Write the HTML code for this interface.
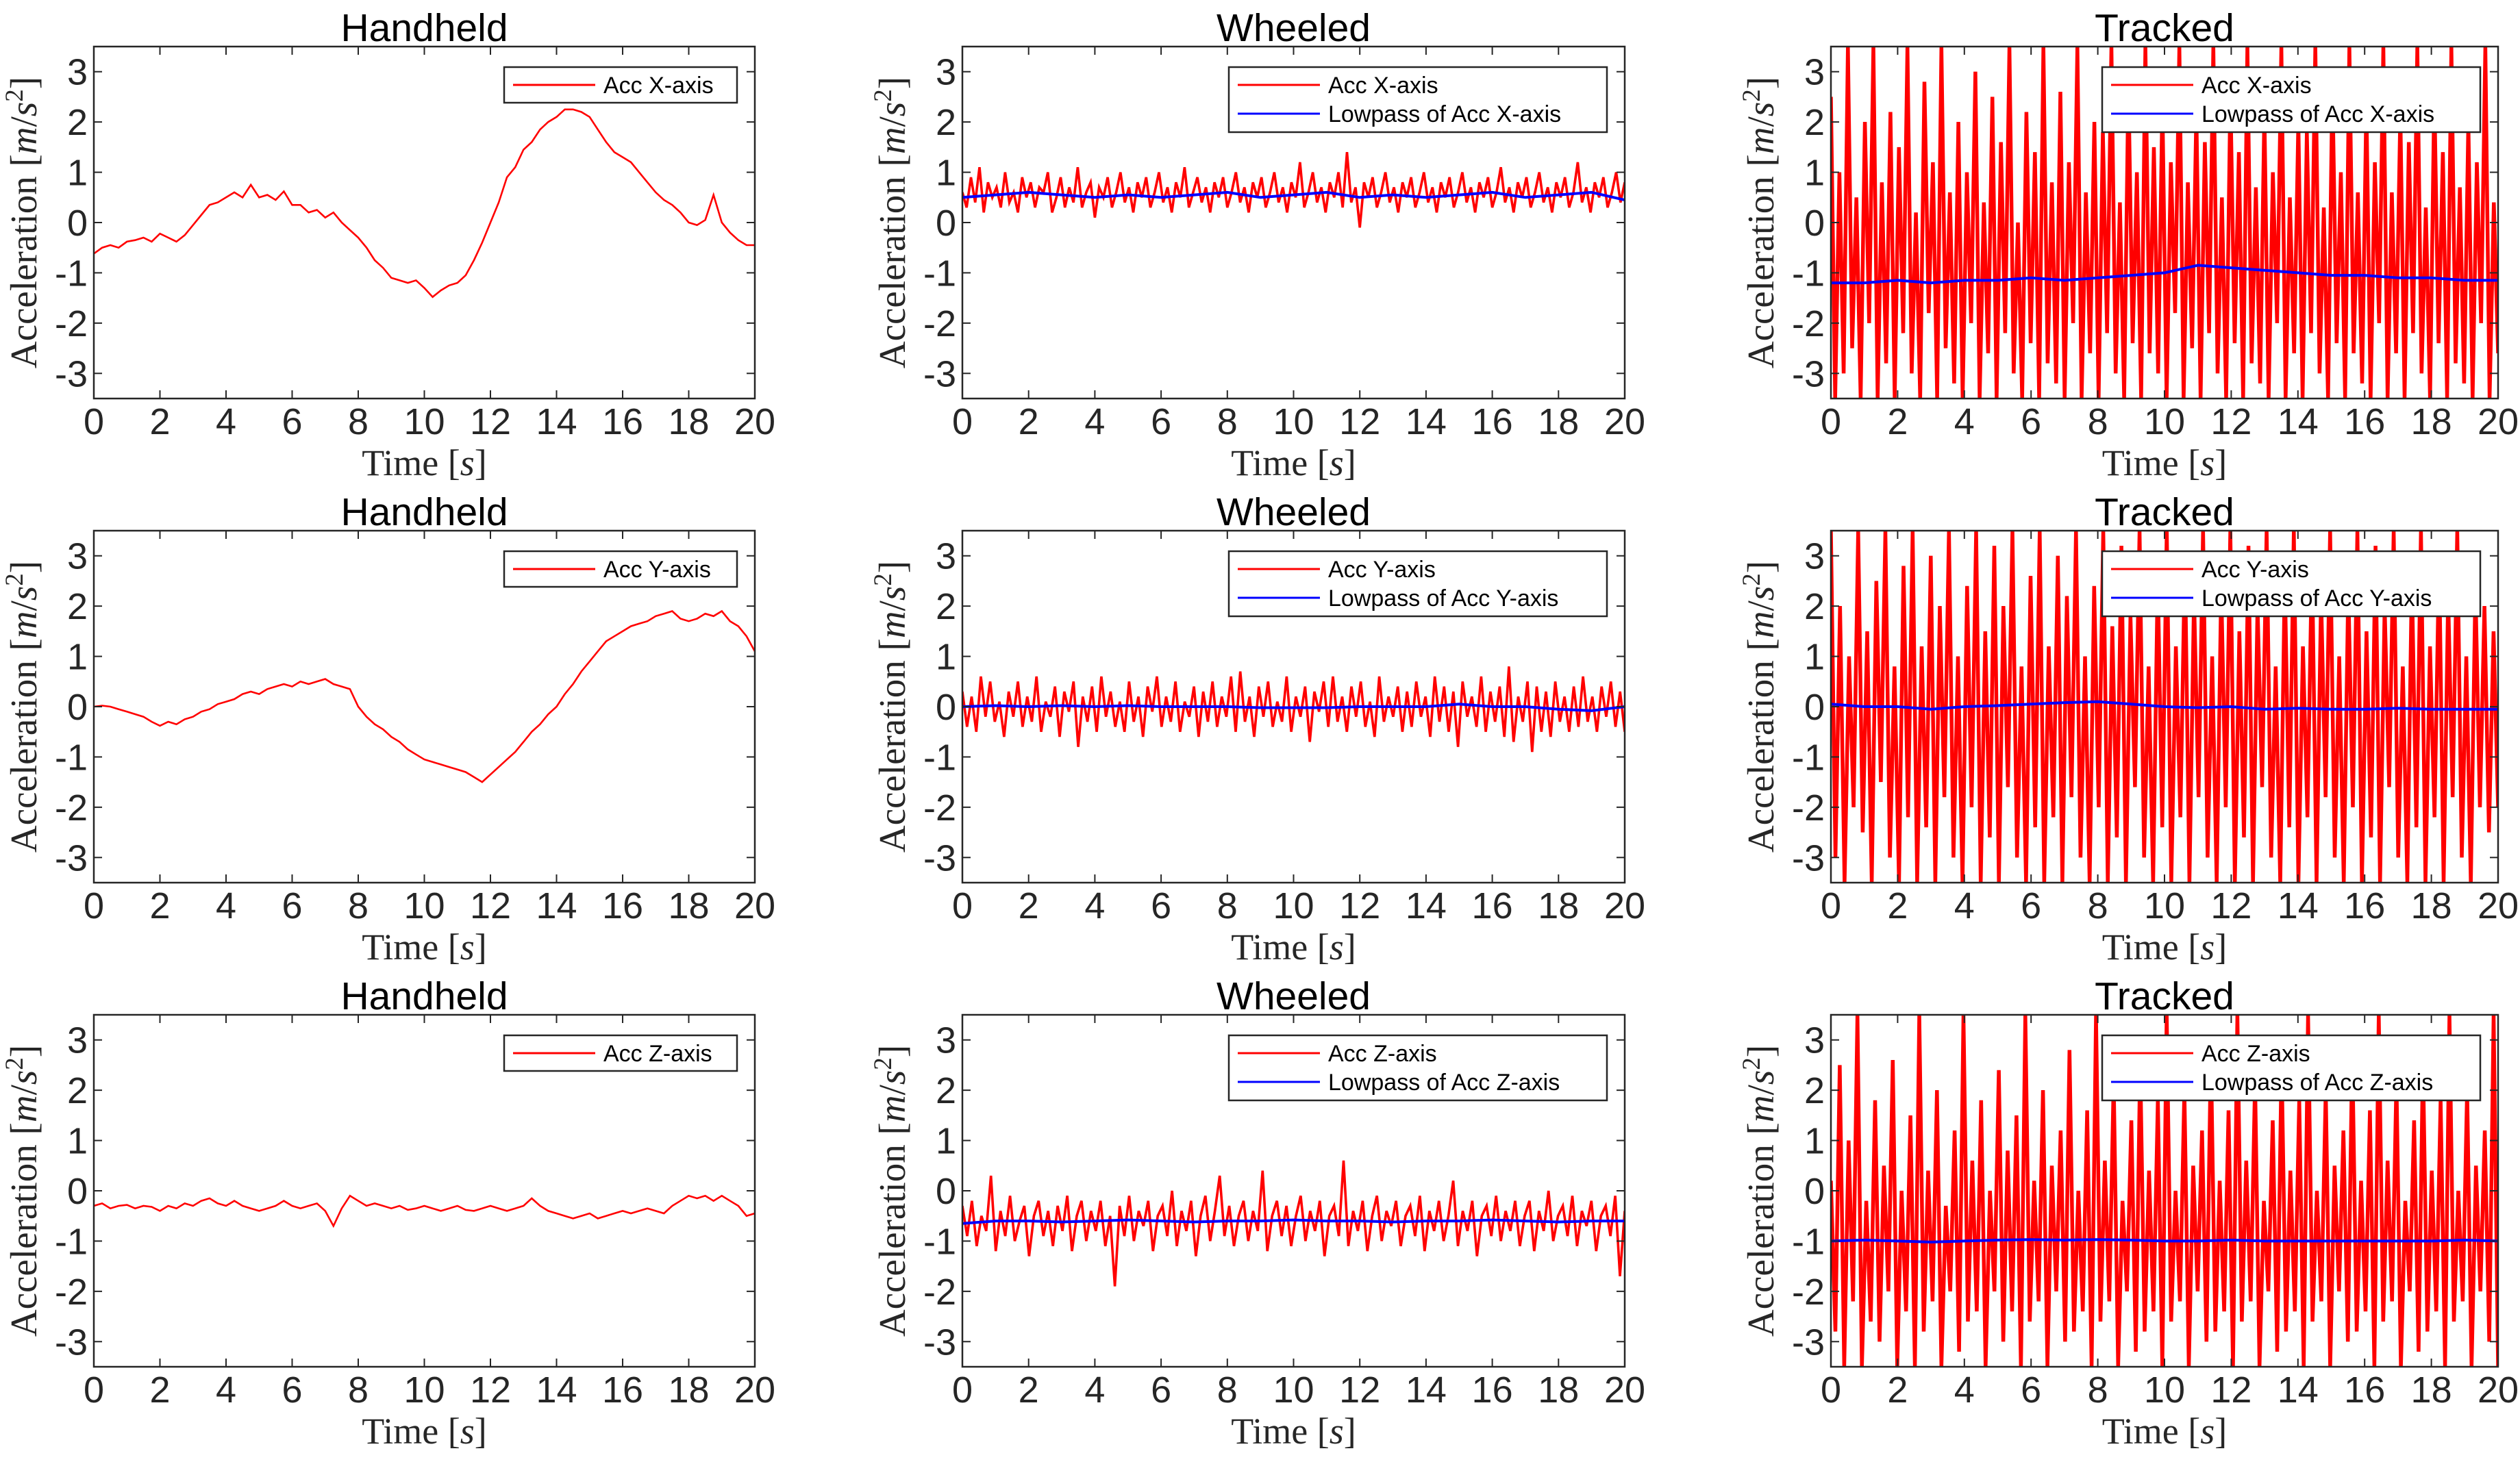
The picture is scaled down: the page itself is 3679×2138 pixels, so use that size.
<!DOCTYPE html>
<html><head><meta charset="utf-8"><style>
html,body{margin:0;padding:0;background:#fff;}
svg{display:block;}
</style></head><body>
<svg id="fig" width="3679" height="2138" viewBox="0 0 3679 2138" xmlns="http://www.w3.org/2000/svg"></svg>
<script>
const xTicks = [0,2,4,6,8,10,12,14,16,18,20];
const yTicks = [-3,-2,-1,0,1,2,3];
const yTickLabels = ["-3","-2","-1","0","1","2","3"];
const colTitles = ["Handheld","Wheeled","Tracked"];
const axisNames = ["X","Y","Z"];

const handheldX = [-0.62,-0.5,-0.45,-0.5,-0.38,-0.35,-0.3,-0.38,-0.22,-0.3,-0.38,-0.25,-0.05,0.15,0.35,0.4,0.5,0.6,0.5,0.75,0.5,0.55,0.45,0.62,0.35,0.35,0.2,0.25,0.1,0.2,0.0,-0.15,-0.3,-0.5,-0.75,-0.9,-1.1,-1.15,-1.2,-1.15,-1.3,-1.48,-1.35,-1.25,-1.2,-1.05,-0.75,-0.4,0.0,0.4,0.9,1.1,1.45,1.6,1.85,2.0,2.1,2.25,2.25,2.2,2.1,1.85,1.6,1.4,1.3,1.2,1.0,0.8,0.6,0.45,0.35,0.2,0.0,-0.05,0.05,0.55,0.0,-0.2,-0.35,-0.45,-0.45];
const handheldY = [0.0,0.02,0.0,-0.05,-0.1,-0.15,-0.2,-0.3,-0.38,-0.3,-0.35,-0.25,-0.2,-0.1,-0.05,0.05,0.1,0.15,0.25,0.3,0.25,0.35,0.4,0.45,0.4,0.5,0.45,0.5,0.55,0.45,0.4,0.35,0.0,-0.2,-0.35,-0.45,-0.6,-0.7,-0.85,-0.95,-1.05,-1.1,-1.15,-1.2,-1.25,-1.3,-1.4,-1.5,-1.35,-1.2,-1.05,-0.9,-0.7,-0.5,-0.35,-0.15,0.0,0.25,0.45,0.7,0.9,1.1,1.3,1.4,1.5,1.6,1.65,1.7,1.8,1.85,1.9,1.75,1.7,1.75,1.85,1.8,1.9,1.7,1.6,1.4,1.1];
const handheldZ = [-0.3,-0.25,-0.35,-0.3,-0.28,-0.35,-0.3,-0.32,-0.4,-0.3,-0.35,-0.25,-0.3,-0.2,-0.15,-0.25,-0.3,-0.2,-0.3,-0.35,-0.4,-0.35,-0.3,-0.2,-0.3,-0.35,-0.3,-0.25,-0.4,-0.7,-0.35,-0.1,-0.2,-0.3,-0.25,-0.3,-0.35,-0.3,-0.38,-0.35,-0.3,-0.35,-0.4,-0.35,-0.3,-0.38,-0.4,-0.35,-0.3,-0.35,-0.4,-0.35,-0.3,-0.15,-0.3,-0.4,-0.45,-0.5,-0.55,-0.5,-0.45,-0.55,-0.5,-0.45,-0.4,-0.45,-0.4,-0.35,-0.4,-0.45,-0.3,-0.2,-0.1,-0.15,-0.1,-0.2,-0.1,-0.2,-0.3,-0.5,-0.45];

const wheeledX = [0.6,0.3,0.9,0.4,1.1,0.2,0.8,0.5,0.7,0.3,1.0,0.4,0.6,0.2,0.9,0.5,0.8,0.3,0.7,0.6,1.0,0.2,0.5,0.9,0.3,0.7,0.4,1.1,0.3,0.6,0.8,0.1,0.7,0.5,0.9,0.3,0.6,1.0,0.4,0.7,0.2,0.8,0.5,0.9,0.3,0.6,1.0,0.4,0.7,0.2,0.8,0.5,1.1,0.3,0.6,0.9,0.4,0.7,0.2,0.8,0.5,0.9,0.3,0.6,1.0,0.4,0.7,0.2,0.8,0.5,0.9,0.3,0.6,1.0,0.4,0.7,0.2,0.8,0.5,1.2,0.3,0.6,1.0,0.4,0.7,0.2,0.8,0.5,1.0,0.3,1.4,0.4,0.7,-0.1,0.8,0.5,0.9,0.3,0.6,1.0,0.4,0.7,0.2,0.8,0.5,0.9,0.3,0.6,1.0,0.4,0.7,0.2,0.8,0.5,0.9,0.3,0.6,1.0,0.4,0.7,0.2,0.8,0.5,0.9,0.3,0.6,1.1,0.4,0.7,0.2,0.8,0.5,0.9,0.3,0.6,1.0,0.4,0.7,0.2,0.8,0.5,0.9,0.3,0.6,1.2,0.4,0.7,0.2,0.8,0.5,0.9,0.3,0.6,1.0,0.4,0.8];
const wheeledXLow = [0.5,0.55,0.6,0.55,0.5,0.55,0.5,0.55,0.6,0.5,0.55,0.6,0.5,0.55,0.5,0.55,0.6,0.5,0.55,0.6,0.45];
const wheeledY = [0.3,-0.4,0.2,-0.5,0.6,-0.2,0.5,-0.3,0.1,-0.6,0.3,-0.2,0.5,-0.4,0.2,-0.3,0.6,-0.5,0.1,-0.2,0.4,-0.6,0.3,-0.1,0.5,-0.8,0.2,-0.3,0.4,-0.5,0.6,-0.2,0.3,-0.4,0.1,-0.5,0.5,-0.3,0.2,-0.6,0.4,-0.1,0.6,-0.4,0.2,-0.3,0.5,-0.5,0.1,-0.2,0.4,-0.6,0.3,-0.3,0.5,-0.4,0.2,-0.2,0.6,-0.5,0.7,-0.3,0.2,-0.6,0.4,-0.2,0.5,-0.4,0.1,-0.3,0.6,-0.5,0.2,-0.2,0.4,-0.7,0.3,-0.1,0.5,-0.4,0.6,-0.3,0.2,-0.5,0.4,-0.2,0.5,-0.4,0.1,-0.6,0.6,-0.3,0.2,-0.2,0.4,-0.5,0.3,-0.4,0.5,-0.2,0.2,-0.6,0.6,-0.3,0.4,-0.5,0.3,-0.8,0.5,-0.2,0.2,-0.4,0.6,-0.5,0.3,-0.3,0.4,-0.6,0.8,-0.7,0.2,-0.3,0.5,-0.9,0.4,-0.5,0.3,-0.6,0.5,-0.3,0.2,-0.5,0.4,-0.4,0.6,-0.3,0.2,-0.5,0.4,-0.2,0.5,-0.4,0.3,-0.5];
const wheeledYLow = [0.0,0.02,0.0,0.02,0.0,0.02,0.0,0.0,0.0,-0.02,-0.02,-0.02,0.0,0.0,0.0,0.05,0.0,0.0,-0.05,-0.08,0.0];
const wheeledZ = [-0.3,-0.9,-0.2,-1.1,-0.5,-0.8,0.3,-1.2,-0.4,-0.9,-0.1,-1.0,-0.6,-0.3,-1.3,-0.5,-0.2,-0.9,-0.4,-1.1,-0.3,-0.8,-0.1,-1.2,-0.5,-0.2,-1.0,-0.4,-0.8,-0.2,-1.1,-0.5,-1.9,-0.3,-0.9,-0.1,-1.0,-0.4,-0.7,-0.2,-1.2,-0.5,-0.3,-0.9,0.0,-1.1,-0.4,-0.8,-0.2,-1.3,-0.5,-0.1,-1.0,-0.4,0.3,-0.9,-0.3,-1.1,-0.5,-0.2,-1.0,-0.4,-0.8,0.4,-1.2,-0.5,-0.2,-0.9,-0.3,-1.1,-0.5,-0.1,-1.0,-0.4,-0.8,-0.2,-1.3,-0.5,-0.3,-0.9,0.6,-1.1,-0.4,-0.8,-0.2,-1.2,-0.5,-0.1,-1.0,-0.4,-0.7,-0.2,-1.1,-0.5,-0.3,-0.9,-0.1,-1.2,-0.4,-0.8,-0.2,-1.0,-0.5,0.2,-1.1,-0.4,-0.8,-0.2,-1.3,-0.5,-0.3,-0.9,-0.1,-1.0,-0.4,-0.8,-0.2,-1.1,-0.5,-0.2,-1.2,-0.4,-0.8,0.0,-1.0,-0.5,-0.3,-0.9,-0.1,-1.1,-0.4,-0.7,-0.2,-1.2,-0.5,-0.3,-0.9,-0.1,-1.7,-0.4];
const wheeledZLow = [-0.65,-0.6,-0.6,-0.62,-0.6,-0.58,-0.6,-0.62,-0.6,-0.6,-0.58,-0.6,-0.6,-0.62,-0.6,-0.6,-0.58,-0.6,-0.62,-0.6,-0.6];

const trackedX = [2.5,-3.5,1.0,-3.0,3.5,-2.5,0.5,-3.5,2.0,-2.0,3.5,-3.5,0.8,-2.8,2.2,-3.5,1.5,-2.2,3.5,-3.0,0.2,-3.5,2.8,-1.8,1.2,-3.5,3.5,-2.5,0.6,-3.2,2.0,-3.5,1.0,-2.0,3.0,-3.5,0.4,-2.6,2.5,-3.5,1.6,-2.2,3.5,-3.0,0.0,-3.5,2.2,-2.4,1.4,-3.5,3.5,-2.8,0.8,-3.2,2.6,-3.5,1.2,-2.0,3.5,-3.5,0.6,-2.6,2.0,-3.5,1.8,-2.2,3.5,-3.0,0.4,-3.5,2.8,-2.4,1.0,-3.5,3.5,-2.6,1.5,-3.0,2.4,-3.5,1.2,-1.8,3.5,-3.5,0.8,-2.5,2.2,-3.5,1.6,-2.2,3.5,-3.0,0.5,-3.5,2.6,-2.4,1.4,-3.5,3.5,-2.8,0.7,-3.2,2.2,-3.5,1.0,-2.0,3.5,-3.5,0.5,-2.6,2.0,-3.5,1.8,-2.2,3.5,-3.0,0.3,-3.5,2.8,-2.4,1.0,-3.5,3.5,-2.6,0.6,-3.2,2.4,-3.5,1.2,-2.0,3.5,-3.5,0.6,-2.6,2.2,-3.5,1.6,-2.2,3.5,-3.0,0.3,-3.5,2.6,-2.4,1.4,-3.5,3.5,-2.8,0.7,-3.2,2.0,-3.5,1.2,-2.0,3.5,-3.5,0.4,-2.6];
const trackedXLow = [-1.2,-1.2,-1.15,-1.2,-1.15,-1.15,-1.1,-1.15,-1.1,-1.05,-1.0,-0.85,-0.9,-0.95,-1.0,-1.05,-1.05,-1.1,-1.1,-1.15,-1.15];
const trackedY = [3.5,-3.0,2.0,-3.5,1.0,-2.0,3.5,-2.5,1.5,-3.5,2.5,-1.5,3.5,-3.0,0.8,-3.5,2.8,-2.2,3.5,-3.5,1.2,-2.4,3.0,-3.5,2.0,-1.8,3.5,-3.0,1.0,-3.5,2.4,-2.0,3.5,-3.5,1.5,-2.6,3.2,-3.5,2.0,-1.6,3.5,-3.0,0.8,-3.5,2.6,-2.4,3.5,-3.5,1.2,-2.2,3.0,-3.5,2.2,-1.8,3.5,-3.0,1.0,-3.5,2.4,-2.0,3.5,-3.5,1.6,-2.6,3.2,-3.5,1.8,-1.6,3.5,-3.0,0.8,-3.5,2.6,-2.4,3.5,-3.5,1.2,-2.2,3.0,-3.5,2.2,-1.8,3.5,-3.0,1.0,-3.5,2.4,-2.0,3.5,-3.5,1.5,-2.6,3.2,-3.5,2.0,-1.6,3.5,-3.0,0.8,-3.5,2.6,-2.4,3.5,-3.5,1.2,-2.2,3.0,-3.5,2.2,-1.8,3.5,-3.0,1.0,-3.5,2.4,-2.0,3.5,-3.5,1.5,-2.6,3.2,-3.5,2.0,-1.6,3.5,-3.0,0.8,-3.5,2.6,-2.4,3.5,-3.5,1.2,-2.2,3.0,-3.5,2.2,-1.8,3.5,-3.0,1.0,-3.5,2.4,-2.0,2.0,-2.5,1.5,-2.0];
const trackedYLow = [0.05,0.0,0.0,-0.05,0.0,0.02,0.05,0.08,0.1,0.05,0.0,-0.02,0.0,-0.05,-0.03,-0.05,-0.05,-0.03,-0.05,-0.05,-0.05];
const trackedZ = [0.2,-2.8,2.5,-3.5,1.0,-2.2,3.5,-3.5,-0.2,-2.6,1.8,-3.0,0.5,-2.0,2.6,-3.5,0.0,-2.4,1.5,-3.5,3.5,-2.8,0.4,-2.2,2.0,-3.5,-0.3,-2.0,1.2,-3.2,3.5,-2.6,0.6,-2.4,1.8,-3.5,0.0,-2.0,2.4,-3.0,0.8,-2.4,1.5,-3.5,3.5,-2.6,0.2,-2.2,2.0,-3.5,0.5,-2.0,1.2,-3.0,2.8,-2.8,0.0,-2.4,1.6,-3.5,3.5,-2.6,0.6,-2.2,2.2,-3.5,-0.2,-2.0,1.4,-3.2,2.6,-2.8,0.4,-2.4,1.8,-3.5,3.5,-2.6,0.0,-2.2,2.0,-3.5,0.5,-2.0,1.2,-3.0,2.8,-2.8,0.2,-2.4,1.6,-3.5,3.5,-2.6,0.6,-2.2,2.2,-3.5,-0.2,-2.0,1.4,-3.2,2.6,-2.8,0.4,-2.4,1.8,-3.5,3.5,-2.6,0.0,-2.2,2.0,-3.5,0.5,-2.0,1.2,-3.0,2.8,-2.8,0.2,-2.4,1.6,-3.5,3.5,-2.6,0.6,-2.2,2.2,-3.5,-0.2,-2.0,1.4,-3.2,2.6,-2.8,0.4,-2.4,1.8,-3.5,3.5,-2.6,0.0,-2.2,2.0,-3.5,0.5,-2.0,1.2,-3.0,3.5,-3.5];
const trackedZLow = [-1.0,-0.98,-1.0,-1.02,-1.0,-0.98,-0.97,-0.98,-0.97,-0.98,-1.0,-1.0,-0.98,-1.0,-1.0,-1.0,-1.0,-1.0,-1.0,-0.98,-1.0];

const rawSeries = [[handheldX,wheeledX,trackedX],[handheldY,wheeledY,trackedY],[handheldZ,wheeledZ,trackedZ]];
const lowSeries = [[null,wheeledXLow,trackedXLow],[null,wheeledYLow,trackedYLow],[null,wheeledZLow,trackedZLow]];

const NS = "http://www.w3.org/2000/svg";
const fig = document.getElementById('fig');
const colLeft = [137,1405,2673], colW = [965,967,974];
const rowTop = [68,775,1482], axH = 514;
const INK = "#262626";
const redWidth = [2.6, 3.6, 5.5];

function mk(tag, attrs, parent){
  const e = document.createElementNS(NS, tag);
  for (const k in attrs) e.setAttribute(k, attrs[k]);
  (parent||fig).appendChild(e);
  return e;
}

let clipId = 0;
for (let r=0;r<3;r++){
  for (let c=0;c<3;c++){
    const L=colLeft[c], W=colW[c], T=rowTop[r], H=axH;
    const sx = v => L + (v-0)/(20-0)*W;
    const sy = v => T + H - (v-(-3.5))/(7)*H;
    const g = mk('g',{});
    
    
    const title = mk('text',{x:L+W/2,y:T-8,'text-anchor':'middle','font-family':'Liberation Sans, sans-serif','font-size':57,fill:'#000'},g);
    title.textContent = colTitles[c];
    
    
    mk('rect',{x:L,y:T,width:W,height:H,fill:'#fff'},g);
    const cid = 'clip'+(clipId++);
    const cp = mk('clipPath',{id:cid},g);
    mk('rect',{x:L,y:T,width:W,height:H},cp);
    const plot = mk('g',{'clip-path':'url(#'+cid+')'},g);
    const raw = rawSeries[r][c];
    const pts = raw.map((v,i)=> sx(i/(raw.length-1)*20).toFixed(1)+','+sy(v).toFixed(1)).join(' ');
    const red = mk('polyline',{points:pts,fill:'none',stroke:'#ff0000','stroke-width':redWidth[c],'stroke-linejoin':'miter'},plot);
    
    
    const low = lowSeries[r][c];
    if (low){
      const lp = low.map((v,i)=> sx(i/(low.length-1)*20).toFixed(1)+','+sy(v).toFixed(1)).join(' ');
      const blue = mk('polyline',{points:lp,fill:'none',stroke:'#0000ff','stroke-width':4,'stroke-linejoin':'round'},plot);
      
      
    }
    xTicks.forEach(t=>{
      const x=sx(t);
      mk('line',{x1:x,y1:T+H,x2:x,y2:T+H-12,stroke:INK,'stroke-width':2},g);
      mk('line',{x1:x,y1:T,x2:x,y2:T+12,stroke:INK,'stroke-width':2},g);
      const tl = mk('text',{x:x,y:T+H+52,'text-anchor':'middle','font-family':'Liberation Sans, sans-serif','font-size':54,fill:INK},g);
      tl.textContent = String(t);
      
      
    });
    yTicks.forEach((t,i)=>{
      const y=sy(t);
      mk('line',{x1:L,y1:y,x2:L+12,y2:y,stroke:INK,'stroke-width':2},g);
      mk('line',{x1:L+W,y1:y,x2:L+W-12,y2:y,stroke:INK,'stroke-width':2},g);
      const tl = mk('text',{x:L-9,y:y+19,'text-anchor':'end','font-family':'Liberation Sans, sans-serif','font-size':54,fill:INK},g);
      tl.textContent = yTickLabels[i];
      
      
    });
    mk('rect',{x:L,y:T,width:W,height:H,fill:'none',stroke:INK,'stroke-width':2.5},g);
    const xl = mk('text',{x:L+W/2,y:T+H+112,'text-anchor':'middle','font-family':'Liberation Serif, serif','font-size':54,fill:INK},g);
    xl.innerHTML = 'Time [<tspan font-style="italic">s</tspan>]';
    
    
    const yl = mk('text',{x:0,y:0,'text-anchor':'middle','font-family':'Liberation Serif, serif','font-size':55,fill:INK,transform:'translate('+(L-84)+','+(T+H/2)+') rotate(-90)'},g);
    yl.innerHTML = 'Acceleration [<tspan font-style="italic">m</tspan>/<tspan font-style="italic">s</tspan><tspan dy="-20" font-size="37">2</tspan><tspan dy="20">]</tspan>';
    
    
    const two = !!low;
    const lw = two ? 552 : 340, lh = two ? 95 : 52;
    const lx = L+W-26-lw, ly = T+30;
    const leg = mk('g',{},g);
    
    
    mk('rect',{x:lx,y:ly,width:lw,height:lh,fill:'#fff',stroke:INK,'stroke-width':2.5},leg);
    const e1y = ly+26;
    mk('line',{x1:lx+13,y1:e1y,x2:lx+133,y2:e1y,stroke:'#ff0000','stroke-width':3},leg);
    const t1 = mk('text',{x:lx+145,y:e1y+12,'font-family':'Liberation Sans, sans-serif','font-size':34,fill:'#000'},leg);
    t1.textContent = 'Acc '+axisNames[r]+'-axis';
    
    
    if (two){
      const e2y = ly+68;
      mk('line',{x1:lx+13,y1:e2y,x2:lx+133,y2:e2y,stroke:'#0000ff','stroke-width':3},leg);
      const t2 = mk('text',{x:lx+145,y:e2y+12,'font-family':'Liberation Sans, sans-serif','font-size':34,fill:'#000'},leg);
      t2.textContent = 'Lowpass of Acc '+axisNames[r]+'-axis';
      
      
    }
  }
}
</script>
</body></html>
